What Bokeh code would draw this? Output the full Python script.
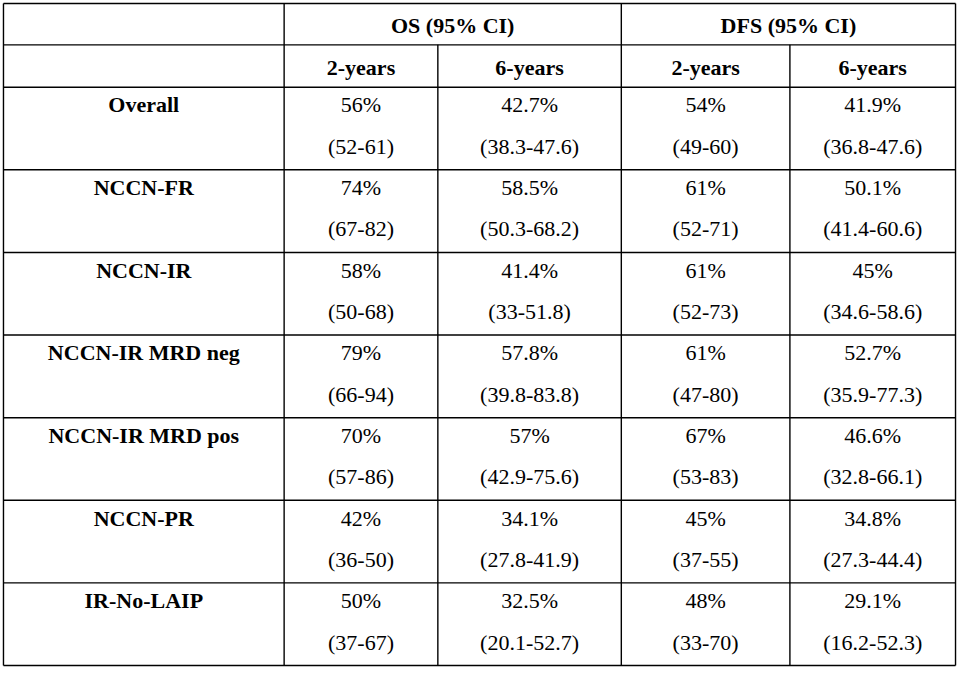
from bokeh.plotting import figure
from bokeh.models import Range1d
from bokeh.core.properties import value
from bokeh.embed import file_html
from bokeh.resources import INLINE

# ---- data ----
groups = ["Overall", "NCCN-FR", "NCCN-IR", "NCCN-IR MRD neg", "NCCN-IR MRD pos", "NCCN-PR", "IR-No-LAIP"]
os_2y = ["56%", "74%", "58%", "79%", "70%", "42%", "50%"]
os_2y_ci = ["(52-61)", "(67-82)", "(50-68)", "(66-94)", "(57-86)", "(36-50)", "(37-67)"]
os_6y = ["42.7%", "58.5%", "41.4%", "57.8%", "57%", "34.1%", "32.5%"]
os_6y_ci = ["(38.3-47.6)", "(50.3-68.2)", "(33-51.8)", "(39.8-83.8)", "(42.9-75.6)", "(27.8-41.9)", "(20.1-52.7)"]
dfs_2y = ["54%", "61%", "61%", "61%", "67%", "45%", "48%"]
dfs_2y_ci = ["(49-60)", "(52-71)", "(52-73)", "(47-80)", "(53-83)", "(37-55)", "(33-70)"]
dfs_6y = ["41.9%", "50.1%", "45%", "52.7%", "46.6%", "34.8%", "29.1%"]
dfs_6y_ci = ["(36.8-47.6)", "(41.4-60.6)", "(34.6-58.6)", "(35.9-77.3)", "(32.8-66.1)", "(27.3-44.4)", "(16.2-52.3)"]
group_headers = ["OS (95% CI)", "DFS (95% CI)"]
sub_headers = ["2-years", "6-years", "2-years", "6-years"]

# ---- layout (reference pixel grid) ----
col_edges = [4, 287, 442, 627, 797, 964]
top, h1, h2 = 4, 46, 89
bottom = 676
nrows = len(groups)
row_h = (bottom - h2) / nrows

FONT = value("Liberation Serif")
FS = "22px"

W, H = 958, 668
p = figure(width=W, height=H, x_range=Range1d(1, 967), y_range=Range1d(679, 1),
           output_backend="svg", toolbar_location=None, min_border=0)
p.axis.visible = False
p.grid.visible = False
p.outline_line_color = None
p.background_fill_color = "white"

# grid lines
x0s, y0s, x1s, y1s = [], [], [], []
L, R = col_edges[0], col_edges[-1]
hlines = [(top, L, R), (h1, L, R), (h2, L, R)]
for i in range(1, nrows + 1):
    hlines.append((h2 + i * row_h, L, R))
for y, xa, xb in hlines:
    x0s.append(xa); x1s.append(xb); y0s.append(y); y1s.append(y)
for j, x in enumerate(col_edges):
    ya = h1 if j in (2, 4) else top
    x0s.append(x); x1s.append(x); y0s.append(ya); y1s.append(bottom)
p.segment(x0=x0s, y0=y0s, x1=x1s, y1=y1s, line_color="black", line_width=1.4)

centers = [(col_edges[k] + col_edges[k + 1]) / 2 for k in range(5)]

def txt(xs, ys, labels, bold=False):
    p.text(x=xs, y=ys, text=labels, text_font=FONT, text_font_size=FS,
           text_font_style="bold" if bold else "normal", text_align="center",
           text_baseline="middle", text_color="black")

# headers
txt([(col_edges[1] + col_edges[3]) / 2, (col_edges[3] + col_edges[5]) / 2],
    [(top + h1) / 2 + 1] * 2, group_headers, bold=True)
txt(centers[1:], [(h1 + h2) / 2 + 1] * 4, sub_headers, bold=True)

# rows
ys1 = [h2 + i * row_h + 18 for i in range(nrows)]
ys2 = [h2 + i * row_h + 60 for i in range(nrows)]
txt([centers[0]] * nrows, ys1, groups, bold=True)
for k, (v, ci) in enumerate([(os_2y, os_2y_ci), (os_6y, os_6y_ci), (dfs_2y, dfs_2y_ci), (dfs_6y, dfs_6y_ci)]):
    txt([centers[k + 1]] * nrows, ys1, v)
    txt([centers[k + 1]] * nrows, ys2, ci)

open("out.html", "w").write(file_html(p, INLINE))
